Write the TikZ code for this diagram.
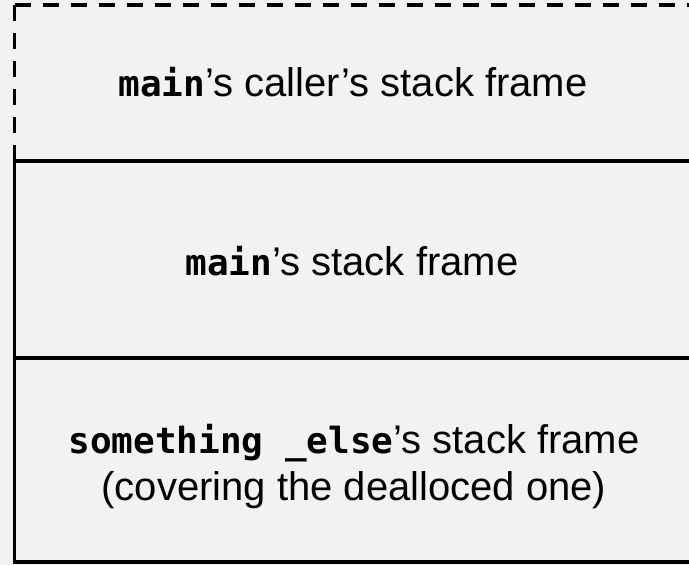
\documentclass[tikz,border=0pt]{standalone}
\usepackage{fontspec}
\setmainfont{Liberation Sans}
\setmonofont{DejaVu Sans Mono}
\newcommand{\code}[1]{{\fontsize{36}{47}\selectfont\ttfamily\bfseries #1}}
\begin{document}
\begin{tikzpicture}[x=1pt,y=-1pt,
  frameline/.style={line width=3.5pt,black},
  framedash/.style={frameline,dash pattern=on 16pt off 12pt},
  label/.style={font=\fontsize{40}{47}\selectfont,align=center,inner sep=0pt,anchor=base}]
  \fill[gray!10] (0,0) rectangle (689,565);
  \useasboundingbox (0,0) rectangle (689,565);
  % stack frame boundaries
  \coordinate (tl) at (14.5,5);
  \coordinate (tr) at (700,5);
  \coordinate (m1l) at (14.5,161);
  \coordinate (m1r) at (700,161);
  \coordinate (m2l) at (14.5,358);
  \coordinate (m2r) at (700,358);
  \coordinate (bl) at (14.5,562);
  \coordinate (br) at (700,562);
  % caller's frame, only partly known
  \draw[framedash] (tl) -- (m1l);
  \draw[framedash] (tl) -- (tr);
  % known frames
  \draw[frameline] (m1l) -- (bl) -- (br);
  \draw[frameline] (m1l) -- (m1r);
  \draw[frameline] (m2l) -- (m2r);
  % frame labels (base = baseline of the last line)
  \node[label] (caller) at (353,96.5) {\code{main}’s caller’s stack frame};
  \node[label] (mainf) at (352,275) {\code{main}’s stack frame};
  \node[label] (other) at (354,500) {\code{something \_else}’s stack frame\\(covering the dealloced one)};
\end{tikzpicture}
\end{document}
